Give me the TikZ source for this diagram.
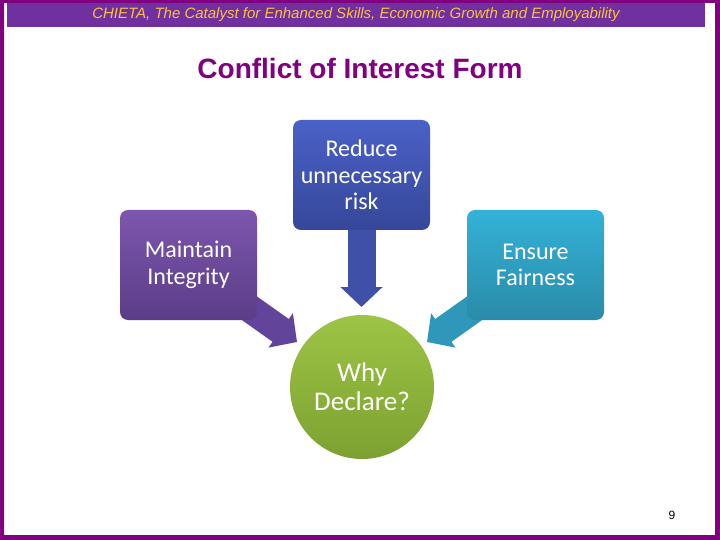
\documentclass[tikz,border=0pt]{standalone}
\usepackage{fontspec}
\setmainfont{Carlito}
\newfontfamily\arialf{Liberation Sans}
\usetikzlibrary{arrows.meta,backgrounds}
\definecolor{framepurple}{HTML}{800080}
\definecolor{headerpurple}{HTML}{7030A0}
\definecolor{headerorange}{HTML}{FFC040}
\definecolor{titlepurple}{HTML}{800080}
\definecolor{topT}{HTML}{4A61C6}
\definecolor{topB}{HTML}{36479A}
\definecolor{leftT}{HTML}{7D56AE}
\definecolor{leftB}{HTML}{5B3D87}
\definecolor{rightT}{HTML}{33B2D8}
\definecolor{rightB}{HTML}{2A8BA8}
\definecolor{circT}{HTML}{9DC444}
\definecolor{circB}{HTML}{7CA132}
\definecolor{downA}{HTML}{3F50A8}
\definecolor{leftA}{HTML}{62449A}
\definecolor{rightA}{HTML}{2F97BA}
\begin{document}
\begin{tikzpicture}[x=1pt,y=-1pt,
  infobox/.style={rounded corners=8pt, minimum width=137pt, minimum height=110pt,
    inner sep=0pt, align=center, text=white, font=\fontsize{24}{26.5}\selectfont},
  blockarrow/.style={line width=28pt, -{Triangle[length=20pt,width=41pt]}}]
\useasboundingbox (0,0) rectangle (720,540);
% frame
\fill[framepurple, even odd rule] (0,0) rectangle (720,540) (4,3) rectangle (715,535);
% header bar
\node[fill=headerpurple, minimum width=698pt, minimum height=24pt, inner sep=0pt,
  text=headerorange, font=\arialf\itshape\fontsize{15}{18}\selectfont] (hdr) at (356,15)
  {CHIETA, The Catalyst for Enhanced Skills, Economic Growth and Employability};
% title
\node[text=titlepurple, font=\arialf\bfseries\fontsize{28}{32}\selectfont, inner sep=0pt]
  (title) at (360,68) {Conflict of Interest Form};
% boxes
\node[infobox, top color=topT, bottom color=topB] (tbox) at (361.5,175)
  {Reduce\\unnecessary\\risk};
\node[infobox, top color=leftT, bottom color=leftB] (lbox) at (188.5,265)
  {Maintain\\Integrity};
\node[infobox, top color=rightT, bottom color=rightB] (rbox) at (535.5,265)
  {Ensure\\Fairness};
% circle
\node[circle, minimum size=144pt, inner sep=0pt, top color=circT, bottom color=circB,
  align=center, text=white, font=\fontsize{27}{29}\selectfont] (why) at (362,387)
  {Why\\Declare?};
% page number
\node[font=\arialf\fontsize{12}{14}\selectfont, inner sep=0pt] (pg) at (672,515) {9};
% arrows
\coordinate (dtip) at (361.5,307);
\coordinate (ltip) at (297,342);
\coordinate (rtip) at (427,342);
\begin{scope}[on background layer]
\fill[white] (4,3) rectangle (715,535);
\draw[blockarrow, draw=downA, fill=downA] (tbox.south) -- (dtip);
\draw[blockarrow, draw=leftA, fill=leftA] (lbox.center) -- (ltip);
\draw[blockarrow, draw=rightA, fill=rightA] (rbox.center) -- (rtip);
\end{scope}
\end{tikzpicture}
\end{document}
